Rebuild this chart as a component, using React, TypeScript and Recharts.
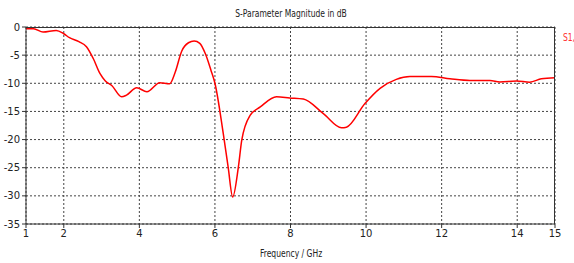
import { LineChart, Line, XAxis, YAxis, CartesianGrid } from "recharts";

// #region S11 data
export const freqGHz = [
  1.0, 1.2, 1.45, 1.8, 2.0, 2.15, 2.4, 2.6, 2.78, 2.96, 3.1, 3.27, 3.53, 3.66,
  3.93, 4.2, 4.54, 4.8, 4.95, 5.12, 5.3, 5.45, 5.6, 5.75, 5.9, 6.0, 6.22, 6.35,
  6.47, 6.62, 6.71, 6.93, 7.2, 7.63, 7.98, 8.34, 8.87, 9.35, 9.48, 9.97, 10.37,
  10.8, 11.16, 11.73, 12.22, 12.75, 13.28, 13.54, 13.98, 14.33, 14.64, 15.0,
];
export const s11dB = [
  -0.3, -0.3, -0.9, -0.6, -1.2, -1.9, -2.6, -3.5, -5.6, -8.3, -9.6, -10.4, -12.4,
  -12.1, -10.8, -11.5, -9.9, -10.1, -8.0, -4.3, -2.8, -2.5, -2.9, -4.8, -7.8,
  -10.0, -18.9, -24.9, -30.2, -24.9, -20.1, -15.7, -14.2, -12.4, -12.6, -12.8,
  -15.4, -17.9, -17.8, -13.6, -10.9, -9.3, -8.8, -8.8, -9.2, -9.5, -9.5, -9.75,
  -9.6, -9.8, -9.2, -9.0,
];
export const xTicks = [1, 2, 4, 6, 8, 10, 12, 14, 15];
export const yTicks = [0, -5, -10, -15, -20, -25, -30, -35];
// #endregion

const data = freqGHz.map((f, i) => ({ f, s11: s11dB[i] }));

const font = "'DejaVu Sans', sans-serif";
const tickStyle = { fontSize: 10, fill: "#222", fontFamily: font };
const narrow = {
  position: "absolute" as const,
  fontFamily: font,
  fontSize: 10,
  color: "#222",
  whiteSpace: "nowrap" as const,
  transform: "scaleX(0.76)",
  transformOrigin: "center",
};

const App = () => {
  return (
    <div style={{ position: "absolute", left: 0, top: 0, width: 574, height: 263, background: "#fff", overflow: "hidden" }}>
      <LineChart
        width={574}
        height={263}
        data={data}
        margin={{ top: 27, right: 19, left: 0, bottom: 0 }}
      >
        <CartesianGrid stroke='#444' strokeDasharray='2 2' />
        <XAxis
          dataKey='f'
          type='number'
          domain={[1, 15]}
          ticks={xTicks}
          height={39}
          stroke='#333'
          tickSize={4}
          tick={tickStyle}
          interval={0}
        />
        <YAxis
          type='number'
          domain={[-35, 0]}
          ticks={yTicks}
          width={26}
          stroke='#333'
          tickSize={4}
          tick={tickStyle}
          interval={0}
        />
        <Line
          type='monotone'
          dataKey='s11'
          stroke='#ff0000'
          strokeWidth={1.5}
          dot={false}
          isAnimationActive={false}
        />
      </LineChart>
      {/* top and right frame */}
      <div style={{ position: "absolute", left: 26, top: 27, width: 529, height: 197, borderTop: "1px solid #333", borderRight: "1px solid #333", boxSizing: "border-box", pointerEvents: "none" }} />
      <div style={{ ...narrow, left: 91, top: 8, width: 400, textAlign: "center" }}>
        S-Parameter Magnitude in dB
      </div>
      <div style={{ ...narrow, left: 191, top: 248, width: 200, textAlign: "center" }}>
        Frequency / GHz
      </div>
      <div style={{ ...narrow, left: 558, top: 32, width: 22, textAlign: "center", color: "#ff3030" }}>
        S1,
      </div>
    </div>
  );
};

export default App;
